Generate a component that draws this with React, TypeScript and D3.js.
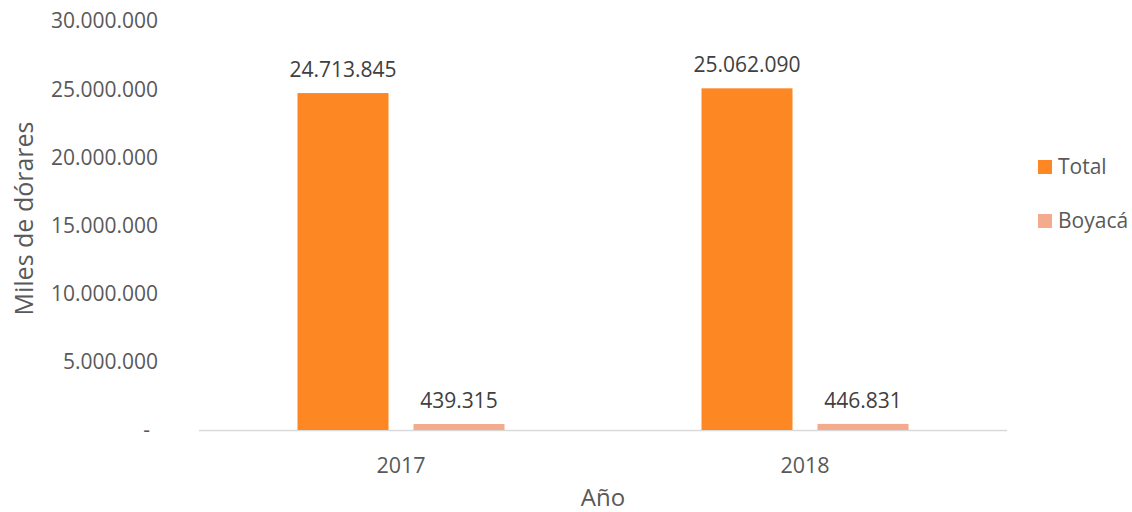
import { useEffect, useRef } from "react";
import * as d3 from "d3";

const years = ["2017", "2018"];
const series = ["Total", "Boyacá"];
const totalValues = [24713845, 25062090];
const boyacaValues = [439315, 446831];
const yTicks = [0, 5000000, 10000000, 15000000, 20000000, 25000000, 30000000];
const colors = ["#FD8723", "#F4AA8C"];

const W = 1132;
const H = 512;
const FONT = "'Open Sans', sans-serif";

const fmt = (v: number) => (v === 0 ? "-" : d3.format(",")(v).replace(/,/g, "."));

const App = () => {
  const svgRef = useRef<SVGSVGElement>(null);

  useEffect(() => {
    const svg = d3.select(svgRef.current);
    svg.selectAll("*").remove();

    const left = 199, right = 1007, top = 21, bottom = 430;

    const x0 = d3.scaleBand().domain(years).range([left, right]).paddingInner(0).paddingOuter(0);
    const x1 = d3.scaleBand().domain(series).range([0, 207]).paddingInner(25 / 116);
    const y = d3.scaleLinear().domain([0, 30000000]).range([bottom, top]);

    const data = years.map((yr, i) => ({ year: yr, vals: [totalValues[i], boyacaValues[i]] }));

    // y tick labels
    svg.append("g")
      .selectAll("text")
      .data(yTicks)
      .join("text")
      .attr("x", (d) => (d === 0 ? 150 : 158))
      .attr("y", (d) => y(d))
      .attr("dy", "0.35em")
      .attr("text-anchor", "end")
      .attr("font-family", FONT)
      .attr("font-size", 21)
      .attr("fill", "#595959")
      .text((d) => fmt(d));

    // baseline
    svg.append("line")
      .attr("x1", left).attr("x2", right)
      .attr("y1", bottom + 0.5).attr("y2", bottom + 0.5)
      .attr("stroke", "#D9D9D9").attr("stroke-width", 1.5);

    const groups = svg.append("g")
      .selectAll("g")
      .data(data)
      .join("g")
      .attr("transform", (d) => `translate(${(x0(d.year) ?? 0) + x0.bandwidth() / 2 - 103.5},0)`);

    groups.each(function (d) {
      const g = d3.select(this);
      d.vals.forEach((v, j) => {
        const bx = x1(series[j]) ?? 0;
        g.append("rect")
          .attr("x", bx)
          .attr("y", y(v))
          .attr("width", x1.bandwidth())
          .attr("height", bottom - y(v))
          .attr("fill", colors[j]);
        g.append("text")
          .attr("x", bx + x1.bandwidth() / 2)
          .attr("y", y(v) - 16)
          .attr("text-anchor", "middle")
          .attr("font-family", FONT)
          .attr("font-size", 21)
          .attr("fill", "#404040")
          .text(fmt(v));
      });
    });

    // x labels
    svg.append("g")
      .selectAll("text")
      .data(years)
      .join("text")
      .attr("x", (d) => (x0(d) ?? 0) + x0.bandwidth() / 2)
      .attr("y", 465)
      .attr("dy", "0.35em")
      .attr("text-anchor", "middle")
      .attr("font-family", FONT)
      .attr("font-size", 21.5)
      .attr("fill", "#595959")
      .text((d) => d);

    svg.append("text")
      .attr("x", (left + right) / 2)
      .attr("y", 498)
      .attr("dy", "0.35em")
      .attr("text-anchor", "middle")
      .attr("font-family", FONT)
      .attr("font-size", 24)
      .attr("fill", "#595959")
      .text("Año");

    svg.append("text")
      .attr("transform", `translate(24,${(top + bottom) / 2 - 7}) rotate(-90)`)
      .attr("dy", "0.35em")
      .attr("text-anchor", "middle")
      .attr("font-family", FONT)
      .attr("font-size", 25)
      .attr("fill", "#595959")
      .text("Miles de dórares");

    // legend
    const leg = svg.append("g")
      .selectAll("g")
      .data(series)
      .join("g")
      .attr("transform", (_d, i) => `translate(1038,${167 + i * 54})`);
    leg.append("rect")
      .attr("x", 0).attr("y", -7).attr("width", 14).attr("height", 14)
      .attr("fill", (_d, i) => colors[i]);
    leg.append("text")
      .attr("x", 20)
      .attr("dy", "0.35em")
      .attr("font-family", FONT)
      .attr("font-size", 21)
      .attr("fill", "#595959")
      .text((d) => d);
  }, []);

  return (
    <svg ref={svgRef} width={W} height={H} style={{ position: "absolute", left: 0, top: 0, background: "#fff" }} />
  );
};

export default App;
